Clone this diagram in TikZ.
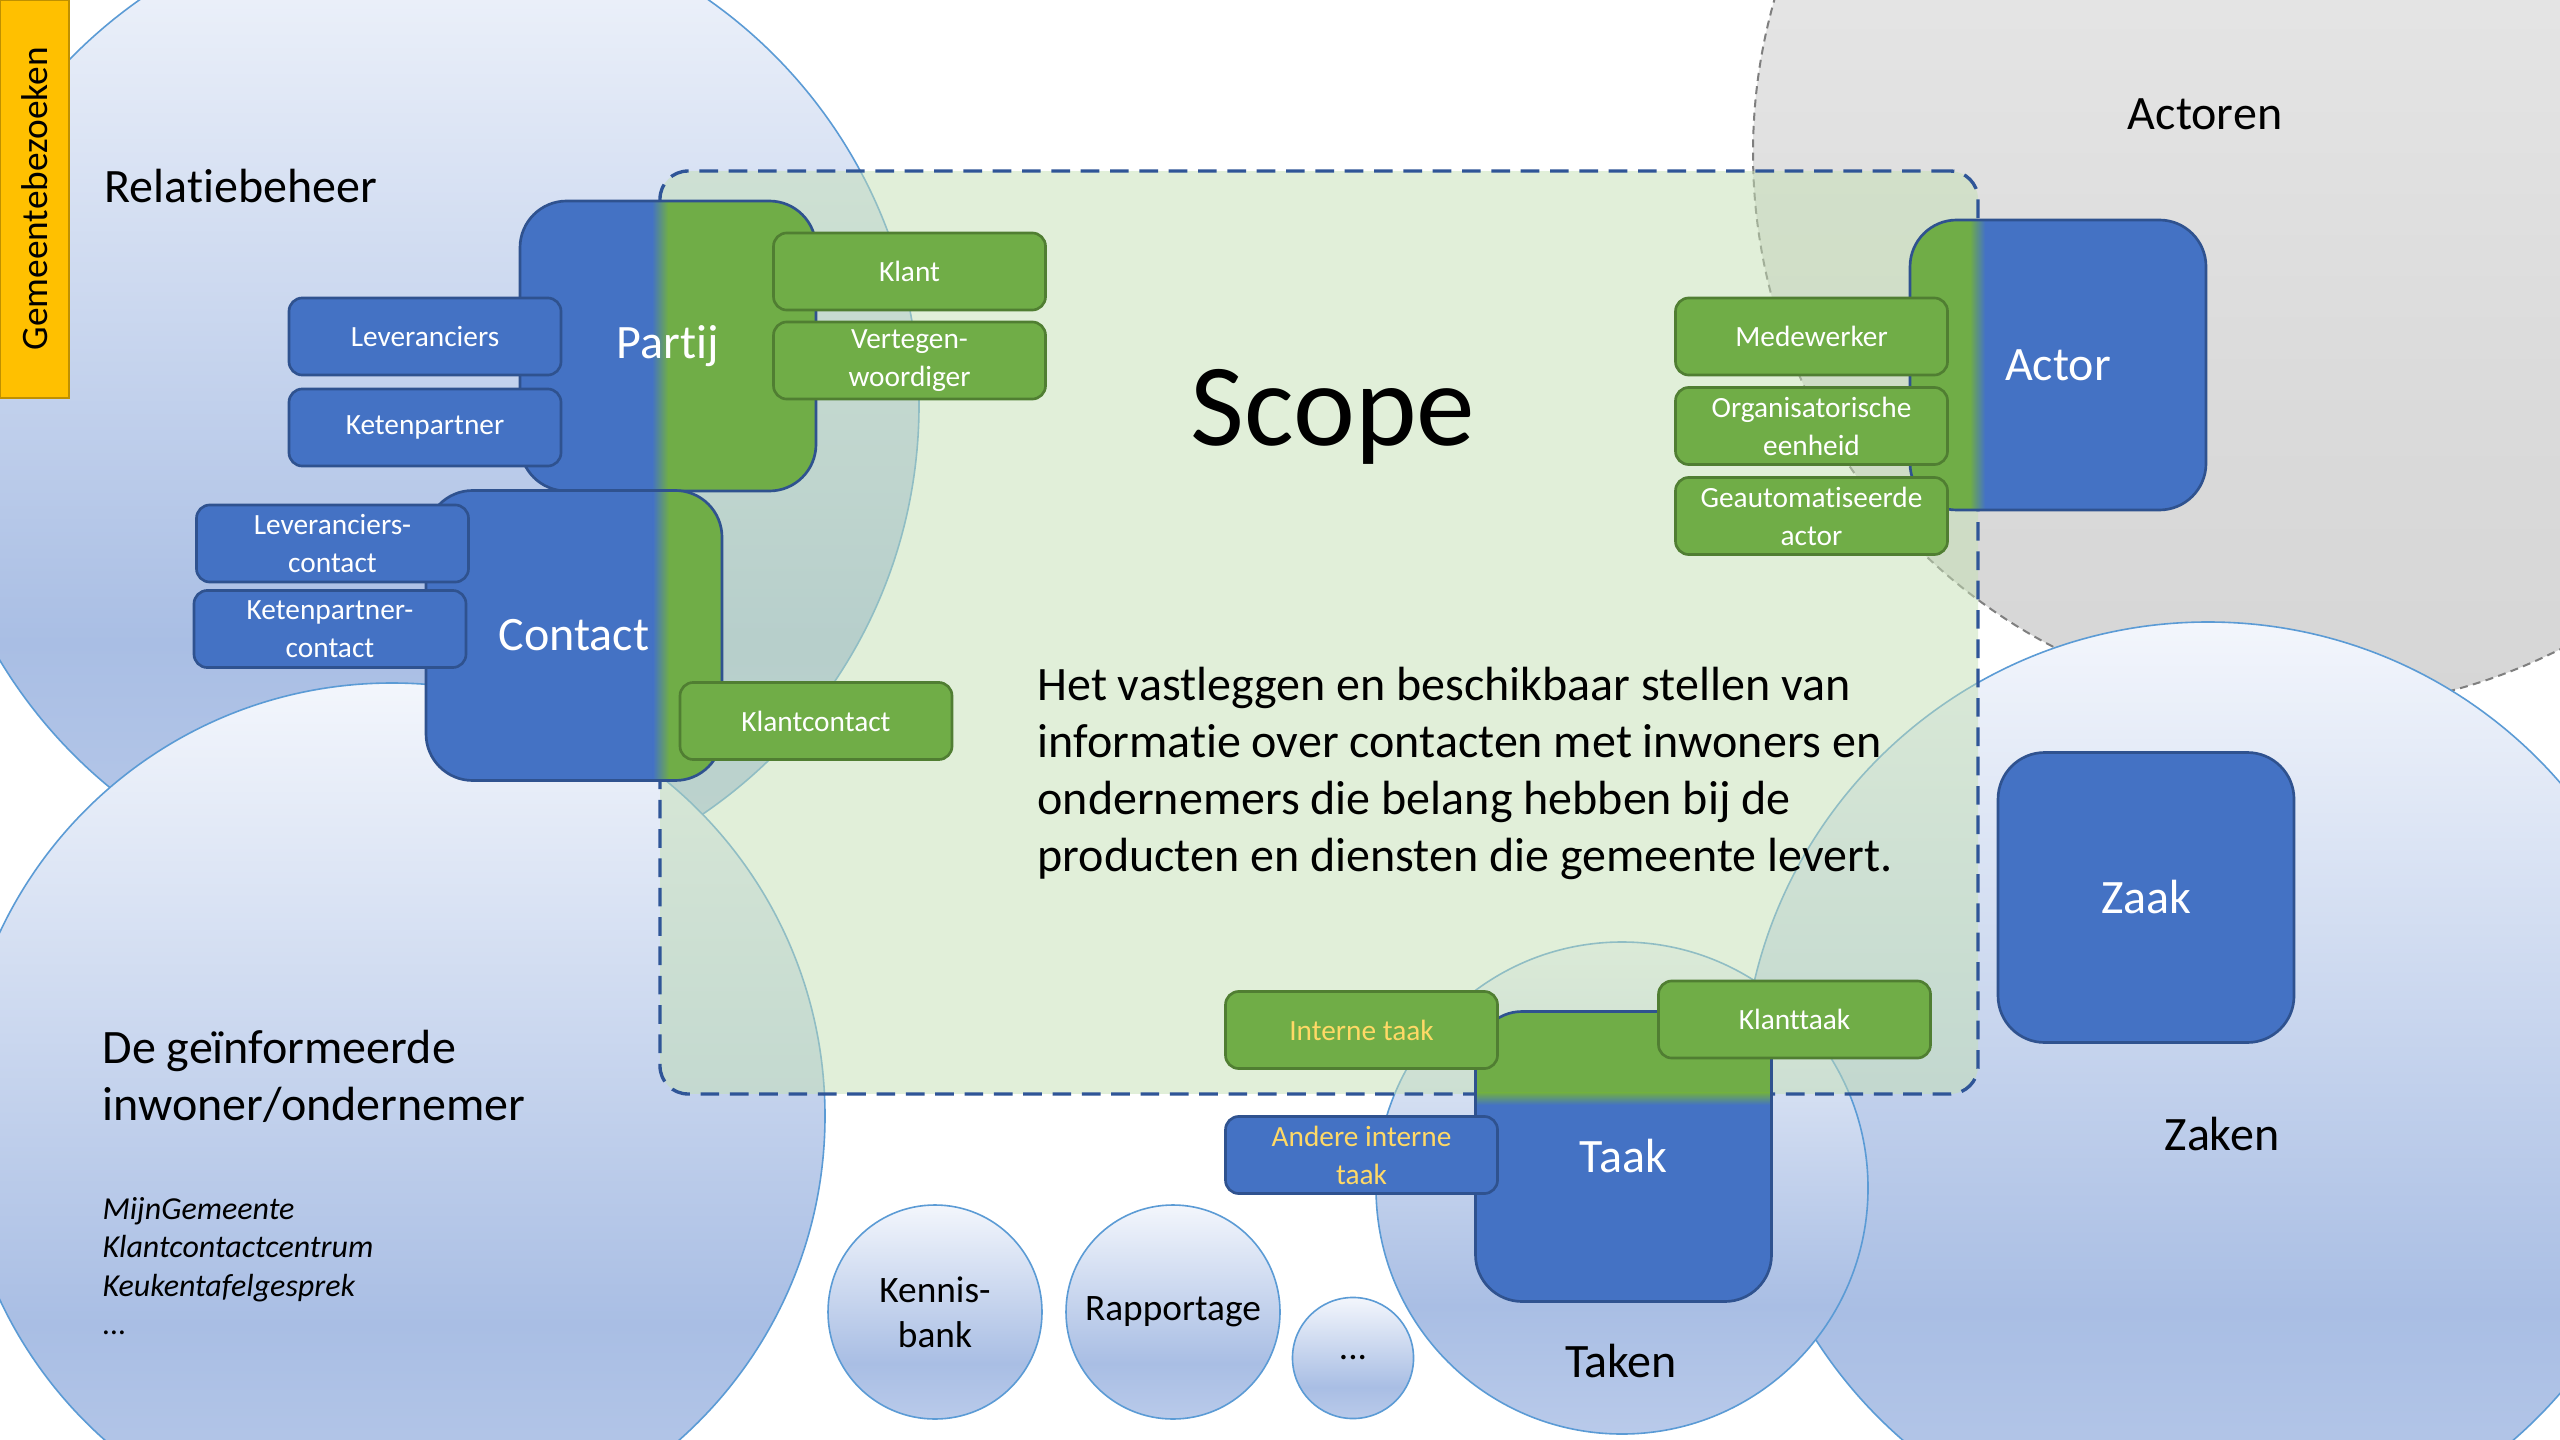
\documentclass[tikz,border=0pt]{standalone}
\usepackage{fontspec}
\setmainfont{Carlito}[Ligatures=NoCommon]
\usetikzlibrary{calc}

\definecolor{cblue}{HTML}{4472C4}
\definecolor{cgreen}{HTML}{70AD47}
\definecolor{bblue}{HTML}{2F528F}
\definecolor{bgreen}{HTML}{507E32}
\definecolor{dashblue}{HTML}{2F5597}
\definecolor{circline}{HTML}{5B9BD5}
\definecolor{ctop}{HTML}{F3F6FC}
\definecolor{cmid}{HTML}{A9BEE4}
\definecolor{cbot}{HTML}{B9CAEA}
\definecolor{gtop}{HTML}{EEEEEE}
\definecolor{gmid}{HTML}{DADADA}
\definecolor{gbot}{HTML}{D6D6D6}
\definecolor{gline}{HTML}{7F7F7F}
\definecolor{scopefill}{HTML}{C5E0B4}
\definecolor{gold}{HTML}{FFD966}
\definecolor{yel}{HTML}{FFC000}
\definecolor{yelline}{HTML}{BF9000}

\pgfdeclareverticalshading{circshade}{100bp}{color(0bp)=(cbot); color(25bp)=(cbot); color(38bp)=(cmid); color(75bp)=(ctop); color(100bp)=(ctop)}
\pgfdeclareverticalshading{grayshade}{100bp}{color(0bp)=(gbot); color(25bp)=(gbot); color(38bp)=(gmid); color(75bp)=(gtop); color(100bp)=(gtop)}

\tikzset{
  bigcirc/.style={circle, draw=circline, line width=0.6pt, inner sep=0pt, shade, shading=circshade},
  bigbox/.style={rectangle, rounded corners=17.5pt, draw=bblue, line width=1pt,
    minimum width=111pt, minimum height=108.75pt, inner sep=0pt, text=white,
    font=\fontsize{18}{22}\selectfont},
  smallbox/.style={rectangle, rounded corners=5pt, line width=1pt, minimum width=102pt,
    minimum height=28.9pt, inner sep=0pt, text=white, align=center,
    font=\fontsize{11}{14.3}\selectfont},
  bsmall/.style={smallbox, fill=cblue, draw=bblue},
  gsmall/.style={smallbox, fill=cgreen, draw=bgreen},
  label18/.style={inner sep=0pt, font=\fontsize{18}{22}\selectfont},
  itlist/.style={inner sep=0pt, anchor=base west, font=\fontsize{12}{14.6}\selectfont\itshape},
  circtext/.style={align=center, font=\fontsize{14}{17}\selectfont},
  hsplit/.style n args={4}{fill=#1, path picture={
      \fill[#2, sharp corners] ([xshift=#4]path picture bounding box.south west) rectangle (path picture bounding box.north east);
      \shade[left color=#1, right color=#2, sharp corners] ([xshift=#3]path picture bounding box.south west) rectangle ([xshift=#4]path picture bounding box.north west);}},
  vsplit/.style={fill=cgreen, path picture={
      \fill[cblue, sharp corners] ([yshift=-35pt]path picture bounding box.north west) rectangle (path picture bounding box.south east);
      \shade[top color=cgreen, bottom color=cblue, sharp corners] ([yshift=-30.5pt]path picture bounding box.north west) rectangle ([yshift=-35pt]path picture bounding box.north east);}}
}

\begin{document}
\begin{tikzpicture}[x=0.375pt, y=-0.375pt]
\useasboundingbox (0,0) rectangle (2560,1440);
\fill[white] (0,0) rectangle (2560,1440);
\clip (0,0) rectangle (2560,1440);

% background circles
\node[bigcirc, shading=grayshade, draw=gline, dash pattern=on 3pt off 2pt, line width=0.75pt, minimum size=417pt] (actcirc) at (2309,153) {};
\node[bigcirc, minimum size=371.25pt] (relcirc) at (424,405) {};
\node[bigcirc, minimum size=324.75pt] (infcirc) at (392,1116) {};
\node[bigcirc, minimum size=349.5pt] (zaakcirc) at (2208,1088) {};
\node[bigcirc, minimum size=184.5pt] (taakcirc) at (1622,1188) {};
\node[bigcirc, circtext, minimum size=80.25pt] (kennis) at (935,1312) {Kennis-\\bank};
\node[bigcirc, circtext, minimum size=80.25pt] (rapport) at (1173,1312) {Rapportage};
\node[bigcirc, circtext, minimum size=45.4pt] (dots) at (1353,1358) {...};

% scope area
\node[draw=dashblue, line width=1.25pt, dash pattern=on 7pt off 4pt, fill=scopefill, fill opacity=0.5,
      rounded corners=10.5pt, minimum width=494.25pt, minimum height=346.1pt, inner sep=0pt] (scopebox) at (1319,632.5) {};

% yellow label
\node[rotate=90, fill=yel, draw=yelline, line width=0.75pt, minimum width=149.25pt, minimum height=25.9pt,
      inner sep=0pt, font=\fontsize{14}{17}\selectfont] (gem) at (34.5,199) {Gemeentebezoeken};

% big boxes
\node[bigbox, hsplit={cblue}{cgreen}{49.5pt}{55.5pt}] (partij) at (668,346) {Partij};
\node[bigbox, hsplit={cblue}{cgreen}{85.1pt}{91.1pt}] (contact) at (574,635.5) {Contact};
\node[bigbox, hsplit={cgreen}{cblue}{22.5pt}{28.1pt}] (actor) at (2058,365) {Actor};
\node[bigbox, vsplit] (taak) at (1623.5,1156.5) {Taak};
\node[bigbox, fill=cblue] (zaak) at (2146,897.5) {Zaak};

% small boxes
\node[bsmall] (lev) at (425,336.5) {Leveranciers};
\node[bsmall] (keten) at (425,427.5) {Ketenpartner};
\node[gsmall] (klant) at (909.5,271.5) {Klant};
\node[gsmall] (verteg) at (909.5,360.5) {Vertegen-\\woordiger};
\node[bsmall] (levcon) at (332.5,543.5) {Leveranciers-\\contact};
\node[bsmall] (ketcon) at (330,629) {Ketenpartner-\\contact};
\node[gsmall] (klantcon) at (816,721) {Klantcontact};
\node[gsmall] (medew) at (1811.5,336.5) {Medewerker};
\node[gsmall] (orgeen) at (1811.5,426) {Organisatorische\\eenheid};
\node[gsmall] (geaut) at (1811.5,516) {Geautomatiseerde\\actor};
\node[gsmall, text=gold] (intern) at (1361.5,1030) {Interne taak};
\node[gsmall] (klanttaak) at (1794.5,1019.5) {Klanttaak};
\node[bsmall, text=gold] (andere) at (1361.5,1155) {Andere interne\\taak};

% texts
\node[label18, anchor=base west] (relatie) at (104,203) {Relatiebeheer};
\node[inner sep=0pt, anchor=base, font=\fontsize{44}{52}\selectfont] (scopetitle) at (1333,445) {Scope};
\node[label18, anchor=base west] (desc1) at (1037,700) {Het vastleggen en beschikbaar stellen van};
\node[label18, anchor=base west] (desc2) at (1037,757) {informatie over contacten met inwoners en};
\node[label18, anchor=base west] (desc3) at (1037,814) {ondernemers die belang hebben bij de};
\node[label18, anchor=base west] (desc4) at (1037,871) {producten en diensten die gemeente levert.};
\node[label18, anchor=base] (actoren) at (2205,130) {Actoren};
\node[label18, anchor=base] (zaken) at (2222,1150) {Zaken};
\node[label18, anchor=base] (taken) at (1621,1377) {Taken};
\node[label18, anchor=base west] (inf1) at (102,1063) {De geïnformeerde};
\node[label18, anchor=base west] (inf2) at (102,1120) {inwoner/ondernemer};
\node[itlist] (it1) at (102,1219) {MijnGemeente};
\node[itlist] (it2) at (102,1257) {Klantcontactcentrum};
\node[itlist] (it3) at (102,1296) {Keukentafelgesprek};
\node[itlist] (it4) at (102,1334) {...};
\end{tikzpicture}
\end{document}
